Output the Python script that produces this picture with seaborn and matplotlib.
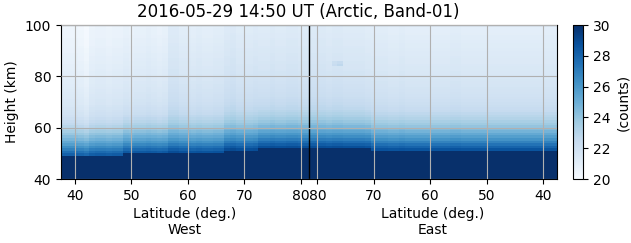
import numpy as np
import pandas as pd
import matplotlib
matplotlib.use('Agg')
import matplotlib.pyplot as plt
import seaborn as sns

# Latitude bins (1 deg), west side going north, east side coming back south
west_lat = list(range(38, 82))          # 38 .. 81
east_lat = list(range(81, 37, -1))      # 81 .. 38
heights = list(range(40, 100))          # bottom edge of each 1 km row

# height (km) where the saturated layer ends, per latitude bin
west_edge = [49]*4 + [49]*7 + [50]*8 + [50]*10 + [51]*6 + [52]*9
east_edge = [52]*11 + [51]*25 + [51]*8

# counts vs km above the edge
profile = [28.6, 28.0, 27.4, 26.8, 26.2, 25.7, 25.2, 24.8, 24.4, 24.0,
           23.7, 23.4, 23.1, 22.9, 22.7, 22.5, 22.4, 22.3, 22.2, 22.1,
           22.0, 21.95, 21.9, 21.85, 21.8, 21.75, 21.7, 21.65, 21.6, 21.6,
           21.55, 21.5, 21.5, 21.45, 21.4, 21.4, 21.35, 21.3, 21.3, 21.25,
           21.2, 21.2, 21.15, 21.1, 21.1, 21.05, 21.0, 21.0, 21.0, 20.95,
           20.9, 20.9]
saturated = 32.0

# column brightness offsets (faint vertical stripes)
west_offset = [-0.5, -0.5, -0.5, -0.6, -0.8, -0.4, -0.3, -0.3, -0.4, -0.3,
               -0.3, -0.2, -0.3, -0.2, -0.2, -0.1, -0.2, -0.3, -0.2, 0.3,
               0.3, 0.1, 0.1, 0.0, 0.1, 0.0, 0.0, 0.1, 0.1, 0.3,
               0.4, 0.2, 0.2, 0.2, 0.3, 0.2, 0.2, 0.3, 0.2, 0.2,
               0.3, 0.3, 0.2, 0.2]
east_offset = [0.3, 0.3, 0.3, 0.2, 0.3, 0.3, 0.2, 0.2, 0.2, 0.2,
               0.1, 0.1, 0.1, 0.1, 0.0, 0.0, 0.1, 0.0, 0.0, 0.0,
               0.0, 0.0, 0.0, 0.0, 0.0, 0.1, 0.1, 0.0, 0.0, 0.0,
               0.0, 0.0, 0.0, 0.0, 0.0, 0.0, 0.0, 0.0, 0.0, 0.0,
               0.0, 0.0, 0.0, 0.0]

# small darker patch on the east side
patch_lat = [77, 76, 77, 76]
patch_h = [84, 84, 85, 85]
patch_val = [22.4, 22.7, 22.3, 22.5]

xticks_lat = [40, 50, 60, 70, 80]
pole = 81.5
lat0 = 37.5

cols_edge = west_edge + east_edge
cols_off = west_offset + east_offset
ncol = len(cols_edge)

grid = np.zeros((len(heights), ncol))
for j in range(ncol):
    for i, h in enumerate(heights):
        d = h - cols_edge[j]
        if d < 0:
            grid[i, j] = saturated
        else:
            grid[i, j] = profile[min(d, len(profile)-1)] + cols_off[j]
for la, h, v in zip(patch_lat, patch_h, patch_val):
    j = len(west_lat) + east_lat.index(la)
    grid[heights.index(h), j] = v

df = pd.DataFrame(grid[::-1], index=heights[::-1])

fig = plt.figure(figsize=(6.31, 2.43), dpi=100)
ax = fig.add_axes([61/631, 1-179/243, 496/631, 154/243])
cax = fig.add_axes([573/631, 1-179/243, 10/631, 154/243])

sns.heatmap(df, ax=ax, cbar_ax=cax, cmap='Blues', vmin=20, vmax=30,
            xticklabels=False, yticklabels=False,
            cbar_kws={'ticks': [20, 22, 24, 26, 28, 30]})

for s in ax.spines.values():
    s.set_visible(True)
    s.set_color('k')
    s.set_linewidth(0.8)

west_pos = [la - lat0 for la in xticks_lat]
east_pos = [(2*pole - la) - lat0 for la in xticks_lat]
ax.set_xticks(west_pos + east_pos)
ax.set_xticklabels([str(v) for v in xticks_lat + xticks_lat], rotation=0, fontsize=10)
ypos = [100 - h for h in [40, 60, 80, 100]]
ax.set_yticks(ypos)
ax.set_yticklabels(['40', '60', '80', '100'], rotation=0, fontsize=10)
ax.tick_params(length=3.5, width=0.8, direction='out', bottom=True, left=True)
ax.set_xlabel('')
ax.set_ylabel('Height (km)', fontsize=10)

ax.grid(True, color='#b0b0b0', linewidth=0.8)
ax.set_axisbelow(False)
ax.axvline(pole - lat0, color='k', linewidth=1)

fig.text(185/631, 1-207/243, 'Latitude (deg.)\nWest', ha='center', va='top', fontsize=10)
fig.text(433/631, 1-207/243, 'Latitude (deg.)\nEast', ha='center', va='top', fontsize=10)

fig.text(298/631, 1-3/243, '2016-05-29 14:50 UT (Arctic, Band-01)',
         ha='center', va='top', fontsize=12)

cb = ax.collections[0].colorbar
cb.outline.set_linewidth(0.8)
cb.outline.set_edgecolor('k')
cb.ax.tick_params(labelsize=10, length=3.5, width=0.8)
cb.set_label('(counts)', fontsize=10)

fig.savefig('out.png', dpi=100)
